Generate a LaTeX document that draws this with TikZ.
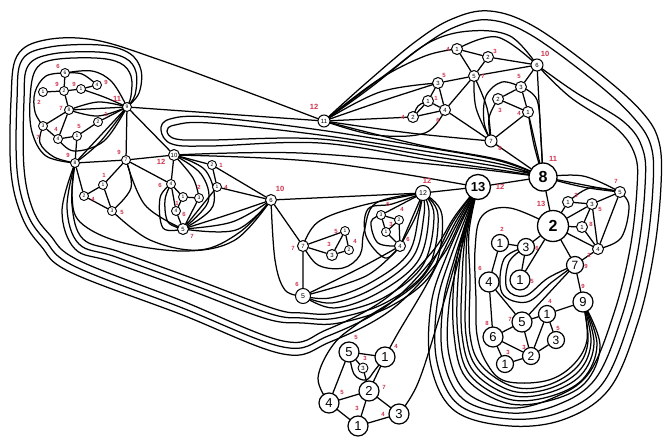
\documentclass[tikz,border=0pt]{standalone}
\usepackage{fontspec}
\setmainfont{Liberation Sans}
\usetikzlibrary{backgrounds}
\definecolor{lab}{RGB}{206,52,78}
\begin{document}
\begin{tikzpicture}[x=1pt,y=-1pt,
  e/.style={draw=black,line width=1.25pt,line join=round,line cap=round},
  sm/.style={smooth,tension=0.6},
  vs/.style={circle,draw,fill=white,line width=0.9pt,inner sep=0pt,minimum size=9pt,font=\fontsize{5}{5}\selectfont},
  vt/.style={circle,draw,fill=white,line width=1pt,inner sep=0pt,minimum size=11pt,font=\fontsize{6}{6}\selectfont},
  vm/.style={circle,draw,fill=white,line width=1pt,inner sep=0pt,minimum size=15pt,font=\fontsize{7}{7}\selectfont},
  vl/.style={circle,draw,fill=white,line width=1.2pt,inner sep=0pt,minimum size=17pt,font=\fontsize{12}{12}\selectfont},
  vg/.style={vl,minimum size=20pt,font=\fontsize{13}{13}\selectfont},
  vb/.style={circle,draw,fill=white,line width=1.3pt,inner sep=0pt,minimum size=28pt,font=\bfseries\fontsize{16}{16}\selectfont},
  lb/.style={text=lab,font=\bfseries\fontsize{6}{6}\selectfont,inner sep=0pt},
  lbb/.style={lb,font=\bfseries\fontsize{7.5}{7.5}\selectfont}]
\useasboundingbox (0,0) rectangle (669,444);
% ---------- cluster A
\node[vs] (A1) at (65,73) {6};
\node[vs] (A2) at (43,92) {1};
\node[vs] (A3) at (64,91) {2};
\node[vs] (A4) at (81,89) {1};
\node[vs] (A5) at (97,85) {4};
\node[vs] (A6) at (69,110) {8};
\node[vs] (A7) at (43,126) {3};
\node[vs] (A8) at (58,139) {4};
\node[vs] (A9) at (77,136) {1};
\node[vs] (A10) at (98,122) {2};
\node[vs] (A11) at (127,107) {9};
\node[lb] (lA1) at (58,66) {6};
\node[lb] (lA2) at (39,102) {2};
\node[lb] (lA3) at (57,84) {9};
\node[lb] (lA4) at (74,84) {9};
\node[lb] (lA5) at (106,82) {9};
\node[lb] (lA6) at (61,108) {7};
\node[lb] (lA7) at (38,137) {7};
\node[lb] (lA8) at (56,129) {4};
\node[lb] (lA9) at (79,126) {5};
\node[lb] (lA10) at (106,114) {1};
\node[lbb] (lA11) at (117,99) {11};
% ---------- B
\node[vs] (B1) at (75,163) {8};
\node[vs] (B2) at (126,160) {7};
\node[vs] (B3) at (103,185) {1};
\node[vs] (B4) at (84,196) {2};
\node[vs] (B5) at (112,211) {3};
\node[lb] (lB1) at (68,155) {9};
\node[lb] (lB2) at (119,152) {9};
\node[lb] (lB3) at (104,175) {1};
\node[lb] (lB4) at (93,199) {4};
\node[lb] (lB5) at (122,212) {5};
% ---------- C
\node[vt] (C1) at (174,155) {10};
\node[vs] (C2) at (212,165) {2};
\node[vs] (C3) at (217,187) {1};
\node[vs] (C4) at (171,184) {4};
\node[vs] (C5) at (183,197) {1};
\node[vs] (C6) at (199,198) {3};
\node[vs] (C7) at (176,211) {4};
\node[vt] (C8) at (183,229) {5};
\node[lbb] (lC1) at (161,162) {12};
\node[lb] (lC2) at (221,165) {1};
\node[lb] (lC3) at (226,187) {4};
\node[lb] (lC4) at (160,185) {6};
\node[lb] (lC5) at (177,203) {1};
\node[lb] (lC6) at (199,187) {2};
\node[lb] (lC7) at (184,214) {6};
\node[lb] (lC8) at (192,236) {7};
% ---------- D
\node[vt] (D1) at (271,200) {6};
\node[vm] (D2) at (423,193) {12};
\node[vt] (D3) at (303,246) {7};
\node[vs] (D4) at (345,231) {1};
\node[vt] (D5) at (332,255) {3};
\node[vs] (D6) at (349,250) {2};
\node[vm] (D7) at (303,296) {5};
\node[vs] (D8) at (381,215) {3};
\node[vs] (D9) at (399,220) {2};
\node[vs] (D10) at (386,232) {1};
\node[vt] (D11) at (400,246) {4};
\node[lbb] (lD1) at (280,189) {10};
\node[lbb] (lD2) at (427,181) {12};
\node[lb] (lD3) at (293,248) {7};
\node[lb] (lD4) at (336,231) {5};
\node[lb] (lD5) at (329,244) {3};
\node[lb] (lD6) at (355,241) {4};
\node[lb] (lD7) at (297,284) {6};
\node[lb] (lD8) at (388,204) {5};
\node[lb] (lD9) at (402,209) {4};
\node[lb] (lD10) at (391,224) {3};
\node[lb] (lD11) at (408,239) {6};
% ---------- E
\node[vt,minimum size=12pt] (E1) at (324,121) {11};
\node[vt] (E2) at (457,49) {1};
\node[vt] (E3) at (488,57) {2};
\node[vt,minimum size=12pt] (E4) at (537,65) {6};
\node[vt] (E5) at (474,76) {5};
\node[vt] (E6) at (438,83) {3};
\node[vt] (E7) at (428,101) {1};
\node[vt] (E8) at (445,110) {4};
\node[vt] (E9) at (413,117) {2};
\node[vt] (E10) at (521,87) {3};
\node[vt] (E11) at (498,99) {2};
\node[vt] (E12) at (528,112) {1};
\node[vt,minimum size=12pt] (E13) at (491,141) {7};
\node[lbb] (lE1) at (314,107) {12};
\node[lb] (lE2) at (448,49) {4};
\node[lb] (lE3) at (495,51) {3};
\node[lbb] (lE4) at (545,54) {10};
\node[lb] (lE5) at (483,76) {7};
\node[lb] (lE6) at (444,75) {5};
\node[lb] (lE7) at (436,98) {1};
\node[lb] (lE8) at (438,120) {6};
\node[lb] (lE9) at (403,117) {4};
\node[lb] (lE10) at (519,76) {5};
\node[lb] (lE11) at (500,110) {3};
\node[lb] (lE12) at (519,113) {4};
\node[lb] (lE13) at (500,148) {8};
% ---------- F
\node[vb] (F1) at (543,177) {8};
\node[vb,minimum size=25pt,font=\bfseries\fontsize{13}{13}\selectfont] (F2) at (478,187) {13};
\node[vt] (F3) at (620,192) {5};
\node[vt] (F4) at (568,202) {1};
\node[vt] (F5) at (592,204) {3};
\node[vb,minimum size=31pt] (F6) at (553,226) {2};
\node[vt] (F7) at (582,227) {1};
\node[vt] (F8) at (598,249) {4};
\node[vl] (F9) at (500,243) {1};
\node[vl] (F10) at (526,247) {3};
\node[vl] (F11) at (575,265) {7};
\node[vg] (F12) at (489,282) {4};
\node[vg] (F13) at (520,280) {1};
\node[vg] (F14) at (583,302) {9};
\node[vl] (F15) at (547,314) {1};
\node[vg] (F16) at (522,322) {5};
\node[vg] (F17) at (493,337) {6};
\node[vl] (F18) at (556,340) {3};
\node[vl] (F19) at (531,356) {2};
\node[vl] (F20) at (505,364) {1};
\node[lbb] (lF1) at (553,159) {11};
\node[lbb] (lF2) at (500,187) {12};
\node[lb] (lF3) at (616,181) {7};
\node[lb] (lF4) at (576,195) {3};
\node[lb] (lF5) at (600,209) {5};
\node[lbb] (lF6) at (541,204) {13};
\node[lb] (lF7) at (591,224) {8};
\node[lb] (lF8) at (589,255) {2};
\node[lb] (lF9) at (502,229) {2};
\node[lb] (lF10) at (537,248) {6};
\node[lb] (lF11) at (586,266) {9};
\node[lb] (lF12) at (480,268) {6};
\node[lb] (lF13) at (532,281) {5};
\node[lb] (lF14) at (583,286) {9};
\node[lb] (lF15) at (550,301) {4};
\node[lb] (lF16) at (510,319) {7};
\node[lb] (lF17) at (487,323) {8};
\node[lb] (lF18) at (558,328) {5};
\node[lb] (lF19) at (524,347) {3};
\node[lb] (lF20) at (508,352) {3};
% ---------- G
\node[vg] (G1) at (349,352) {5};
\node[vg] (G2) at (385,357) {1};
\node[vs,minimum size=10pt,font=\fontsize{6}{6}\selectfont] (G3) at (363,368) {3};
\node[vg] (G4) at (369,391) {2};
\node[vg] (G5) at (329,403) {4};
\node[vg] (G6) at (358,426) {1};
\node[vg] (G7) at (399,414) {3};
\node[lb] (lG1) at (356,337) {5};
\node[lb] (lG2) at (396,346) {4};
\node[lb] (lG3) at (365,358) {3};
\node[lb] (lG4) at (384,387) {7};
\node[lb] (lG5) at (342,392) {5};
\node[lb] (lG6) at (357,408) {3};
\node[lb] (lG7) at (383,414) {4};

\begin{scope}[on background layer]
\fill[white] (0,0) rectangle (669,444);
% ---- A
\draw[e] (A1)--(A3) (A2)--(A3) (A3)--(A4) (A4)--(A5) (A3)--(A6) (A6)--(A7) (A6)--(A8) (A7)--(A8) (A8)--(A9) (A9)--(A10) (A10)--(A11) (A6)--(A11) (A9)--(B1) (A11)--(B1) (A11)--(B2) (A11)--(C1) (A11)--(E1);
\draw[e] plot[sm] coordinates {(A1) (82,74) (A5)};
\draw[e] plot[sm] coordinates {(A1) (92,71) (112,82) (A11)};
\draw[e] plot[sm] coordinates {(A1) (46,76) (35,92) (35,112) (A7)};
\draw[e] plot[sm] coordinates {(A6) (98,102) (A11)};
\draw[e] plot[sm] coordinates {(A6) (98,116) (A11)};
\draw[e] plot[sm] coordinates {(A4) (104,97) (A11)};
\draw[e] plot[sm] coordinates {(A8) (74,151) (104,141) (A11)};
\draw[e] plot[sm] coordinates {(A7) (40,143) (54,157) (B1)};
\draw[e] plot[sm] coordinates {(A11) (131,96) (131,76) (120,63) (95,58) (52,60) (35,71) (30,100) (32,132) (46,156) (B1)};
\draw[e] plot[sm] coordinates {(B1) (100,142) (A11)};
% ---- outer left hull
\draw[e] plot[sm] coordinates {(E1) (250,93) (160,60) (95,40) (45,40) (17,56) (11,100) (11,172) (22,217) (41,246) (70,272) (180,314) (283,354) (330,342) (391,310) (440,259) (461,220) (F2)};
\draw[e] plot[sm] coordinates {(A11) (139,93) (141,70) (129,53) (100,45) (50,47) (22,60) (17,100) (17,170) (27,213) (45,240) (74,266) (180,307) (283,347) (328,336) (388,305) (436,255) (458,218) (F2)};
\draw[e] plot[sm] coordinates {(A11) (135,95) (136,72) (125,58) (98,52) (52,54) (28,66) (24,100) (24,168) (33,210) (50,235) (78,260) (180,300) (283,341) (326,330) (385,299) (432,252) (455,216) (F2)};
% ---- B
\draw[e] (B1)--(B2) (B2)--(B3) (B3)--(B4) (B3)--(B5) (B4)--(B5) (B1)--(B4) (B2)--(C1) (B2)--(C4);
\draw[e] plot[sm] coordinates {(B2) (131,188) (B5)};
\draw[e] plot[sm] coordinates {(B2) (145,205) (C8)};
\draw[e] plot[sm] coordinates {(B5) (150,240) (200,250) (240,232) (D1)};
\draw[e] plot[sm] coordinates {(B1) (72,195) (80,222) (120,242) (185,251) (235,240) (D1)};
% ---- C
\draw[e] (C1)--(C2) (C2)--(C3) (C3)--(D1) (C2)--(D1) (C1)--(C4) (C4)--(C5) (C4)--(C7) (C5)--(C6) (C5)--(C7) (C7)--(C8) (C6)--(C8) (C3)--(C8);
\draw[e] plot[sm] coordinates {(C1) (193,178) (C6)};
\draw[e] plot[sm] coordinates {(C1) (201,174) (208,202) (C8)};
\draw[e] plot[sm] coordinates {(C1) (206,171) (213,206) (C8)};
\draw[e] plot[sm] coordinates {(C4) (165,200) (168,222) (C8)};
\draw[e] plot[sm] coordinates {(C4) (160,198) (163,228) (C8)};
\draw[e] plot[sm] coordinates {(C8) (230,214) (D1)};
\draw[e] plot[sm] coordinates {(C8) (232,222) (D1)};
\draw[e] plot[sm] coordinates {(C8) (236,230) (D1)};
\draw[e] plot[sm] coordinates {(C1) (320,162) (F2)};
\draw[e] plot[sm] coordinates {(C1) (300,153) (450,166) (F1)};
% ---- long U loops
\draw[e] plot[sm] coordinates {(F1) (500,161) (430,148) (320,130) (210,117) (170,119) (161,130) (172,144) (210,146) (320,143) (430,160) (500,170) (F1)};
\draw[e] plot[sm] coordinates {(F1) (500,164) (430,152) (320,135) (210,123) (175,125) (167,131) (176,139) (210,140) (320,139) (430,156) (500,167) (F1)};
% ---- D
\draw[e] (D1)--(D2) (D1)--(D3) (D3)--(D4) (D3)--(D5) (D4)--(D5) (D4)--(D6) (D5)--(D6) (D3)--(D7) (D8)--(D9) (D8)--(D10) (D9)--(D11) (D10)--(D11) (D9)--(D10) (D2)--(F2) (D8)--(D2) (D11)--(D2);
\draw[e] plot[sm] coordinates {(D1) (275,260) (285,290) (D7)};
\draw[e] plot[sm] coordinates {(D3) (318,222) (360,206) (D2)};
\draw[e] plot[sm] coordinates {(D3) (318,265) (343,268) (360,255) (364,232) (376,203) (D2)};
\draw[e] plot[sm] coordinates {(D8) (371,222) (378,243) (D11)};
\draw[e] plot[sm] coordinates {(D2) (392,204) (368,209) (366,236) (385,258) (D11)};
\draw[e] plot[sm] coordinates {(D11) (416,216) (D2)};
\draw[e] plot[sm] coordinates {(D2) (419,214) (408,254) (370,283) (330,298) (D7)};
\draw[e] plot[sm] coordinates {(D2) (424,215) (413,257) (374,288) (332,303) (D7)};
\draw[e] plot[sm] coordinates {(D2) (429,215) (418,261) (378,293) (334,308) (D7)};
\draw[e] plot[sm] coordinates {(D11) (360,268) (D7)};
\draw[e] plot[sm] coordinates {(D11) (366,276) (D7)};
\draw[e] plot[sm] coordinates {(D2) (434,215) (423,265) (383,298) (335,313) (303,313) (275,309) (200,281) (120,252) (83,239) (72,205) (B1)};
\draw[e] plot[sm] coordinates {(D2) (438,215) (428,268) (387,302) (337,318) (303,318) (271,314) (196,286) (116,257) (79,244) (67,208) (B1)};
\draw[e] plot[sm] coordinates {(D2) (442,215) (433,271) (391,306) (339,323) (303,323) (267,319) (192,291) (112,262) (75,249) (62,211) (B1)};
% ---- E
\draw[e] (E1)--(E9) (E2)--(E3) (E3)--(E4) (E2)--(E5) (E3)--(E5) (E5)--(E4) (E5)--(E6) (E6)--(E7) (E6)--(E8) (E7)--(E8) (E7)--(E9) (E9)--(E8) (E5)--(E8) (E8)--(E13) (E10)--(E4) (E10)--(E11) (E10)--(E12) (E11)--(E12) (E12)--(E13) (E4)--(F1) (E13)--(F1) (E12)--(F1);
\draw[e] plot[sm] coordinates {(E2) (497,37) (E4)};
\draw[e] plot[sm] coordinates {(E5) (487,108) (E13)};
\draw[e] plot[sm] coordinates {(E5) (476,108) (E13)};
\draw[e] plot[sm] coordinates {(E11) (489,118) (E13)};
\draw[e] plot[sm] coordinates {(E10) (502,82) (486,96) (484,122) (E13)};
\draw[e] plot[sm] coordinates {(E10) (537,100) (541,140) (F1)};
\draw[e] plot[sm] coordinates {(E12) (534,145) (F1)};
\draw[e] plot[sm] coordinates {(E1) (380,92) (E6)};
\draw[e] plot[sm] coordinates {(E1) (382,101) (E6)};
\draw[e] plot[sm] coordinates {(E1) (378,80) (425,56) (E2)};
\draw[e] plot[sm] coordinates {(E1) (375,135) (425,133) (E8)};
\draw[e] plot[sm] coordinates {(E1) (410,133) (E13)};
\draw[e] plot[sm] coordinates {(E1) (420,145) (500,160) (F1)};
\draw[e] plot[sm] coordinates {(E1) (385,75) (430,42) (470,31) (510,36) (E4)};
\draw[e] plot[sm] coordinates {(E9) (418,106) (E7)};
% ---- right lobe hull
\draw[e] plot[sm] coordinates {(E1) (365,84) (415,42) (452,19) (490,11) (535,27) (600,74) (642,112) (659,142) (661,185) (654,252) (638,322) (610,388) (565,419) (510,426) (455,411) (431,366) (431,305) (447,255) (F2)};
\draw[e] plot[sm] coordinates {(E1) (370,88) (419,49) (455,27) (490,20) (531,35) (594,81) (633,117) (651,146) (653,186) (646,251) (630,319) (603,383) (561,412) (510,419) (459,405) (437,362) (437,305) (451,256) (F2)};
\draw[e] plot[sm] coordinates {(E4) (575,92) (624,122) (643,150) (645,187) (638,250) (622,316) (596,378) (557,405) (510,413) (463,399) (443,358) (443,305) (455,257) (F2)};
\draw[e] plot[sm] coordinates {(E4) (570,97) (616,128) (635,155) (637,188) (630,249) (614,313) (589,373) (553,398) (510,408) (467,393) (449,355) (449,305) (459,258) (F2)};
\foreach \k in {0,...,4}{
  \draw[e] plot[sm] coordinates {(F2) ({463+1.5*\k},232) ({454+4*\k},280) ({454+4*\k},335) ({466+4*\k},{378-3*\k}) ({506+2*\k},{403-4*\k}) (548,{401-4*\k}) ({585-2*\k},{383-4*\k}) ({600-3*\k},{345-\k}) (F14)};
}
% ---- F
\draw[e] (F1)--(F6) (F1)--(F2) (F1)--(F3) (F6)--(F4) (F6)--(F5) (F4)--(F5) (F5)--(F3) (F6)--(F7) (F7)--(F5) (F7)--(F8) (F5)--(F8) (F3)--(F8) (F6)--(F8) (F6)--(F11) (F8)--(F11) (F6)--(F10) (F9)--(F10) (F9)--(F12) (F6)--(F13) (F10)--(F13) (F12)--(F16) (F12)--(F17) (F16)--(F17) (F16)--(F15) (F15)--(F14) (F15)--(F18) (F16)--(F19) (F17)--(F19) (F17)--(F20) (F19)--(F20) (F18)--(F19) (F11)--(F14) (F11)--(F16) (F15)--(F19);
\draw[e] plot[sm] coordinates {(F1) (583,176) (F3)};
\draw[e] plot[sm] coordinates {(F1) (583,187) (F3)};
\draw[e] plot[sm] coordinates {(F4) (590,188) (F3)};
\draw[e] plot[sm] coordinates {(F3) (629,206) (621,238) (F8)};
\draw[e] plot[sm] coordinates {(F10) (509,262) (507,289) (525,296) (548,278) (F11)};
\draw[e] plot[sm] coordinates {(F10) (504,259) (502,293) (527,302) (552,282) (F11)};
\draw[e] plot[sm] coordinates {(F6) (510,208) (482,216) (475,250) (476,300) (477,335) (486,362) (505,381) (545,381) (572,366) (587,340) (F14)};
% ---- G
\draw[e] (G1)--(G2) (G1)--(G3) (G3)--(G4) (G2)--(G4) (G1)--(G5) (G5)--(G4) (G5)--(G6) (G4)--(G6) (G4)--(G7) (G6)--(G7);
\draw[e] plot[sm] coordinates {(G1) (354,374) (366,380) (375,370) (G2)};
\draw[e] plot[sm] coordinates {(G2) (398,333) (428,282) (458,222) (F2)};
\draw[e] plot[sm] coordinates {(G7) (418,383) (440,315) (466,226) (F2)};
\draw[e] plot[sm] coordinates {(G5) (318,378) (333,345) (360,322) (420,280) (453,222) (F2)};
\end{scope}
\end{tikzpicture}
\end{document}
